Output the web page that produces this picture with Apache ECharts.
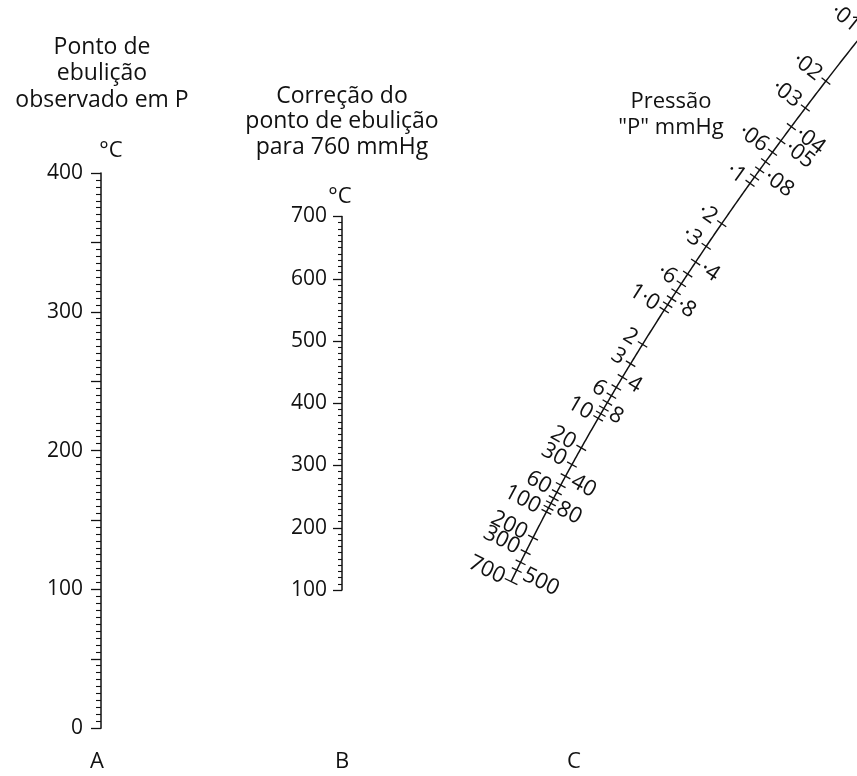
<!DOCTYPE html>
<html><head><meta charset="utf-8">
<script src="https://cdn.jsdelivr.net/npm/echarts@6/dist/echarts.min.js"></script>
<style>html,body{margin:0;padding:0;background:#fff}#c{width:857px;height:776px}</style>
</head><body><div id="c"></div>
<script>
// ---- Data ----
const observedRange = [0, 400];        // scale A, °C
const correctedRange = [100, 700];     // scale B, °C
const pressureTicks = [0.01,0.02,0.03,0.04,0.05,0.06,0.07,0.08,0.09,0.1,0.2,0.3,0.4,0.5,0.6,0.7,0.8,0.9,1,2,3,4,5,6,7,8,9,10,20,30,40,50,60,70,80,90,100,200,300,400,500,700];
const leftLabelValues = [0.01,0.02,0.03,0.06,0.1,0.2,0.3,0.6,1,2,3,6,10,20,30,60,100,200,300,700];
const leftLabelTexts = ['·01','·02','·03','·06','·1','·2','·3','·6','1·0','2','3','6','10','20','30','60','100','200','300','700'];
const rightLabelValues = [0.04,0.05,0.08,0.4,0.8,4,8,40,80,500];
const rightLabelTexts = ['·04','·05','·08','·4','·8','4','8','40','80','500'];
const titleA = ['Ponto de', 'ebulição', 'observado em P'];
const titleB = ['Correção do', 'ponto de ebulição', 'para 760 mmHg'];
const titleC = ['Pressão', '"P" mmHg'];

// ---- Nomograph scale for C, expressed in scale-A units (x: A=0, B=1; y: °C on A) ----
const C_M = 15.597, C_A0 = -768.6, C_A1 = 13604.5;
function pressureToT(p) { return C_A0 + C_A1 / (C_M - Math.log10(760 / p)); }
function tToX(t) { return 1.4307 + 0.0023245 * t + 2.27e-6 * t * t; }
function pressurePoint(p) { const t = pressureToT(p); return [tToX(t), t]; }

const FONT = '"Open Sans", "DejaVu Sans", sans-serif';
const INK = '#111111';

function frame(api, p) {
  const P = api.coord(pressurePoint(p));
  const A = api.coord(pressurePoint(p * 1.03));
  const B = api.coord(pressurePoint(p / 1.03));
  let tx = B[0] - A[0], ty = B[1] - A[1];
  const l = Math.hypot(tx, ty); tx /= l; ty /= l;
  return { P, nx: ty, ny: -tx };
}

const chart = echarts.init(document.getElementById('c'), null, { renderer: 'canvas' });

function textBlock(lines, cx, top, lh, size) {
  return lines.map((s, i) => ({
    type: 'text', x: cx, y: top + i * lh,
    style: { text: s, align: 'center', verticalAlign: 'middle', font: size + 'px ' + FONT, fill: INK }
  }));
}

const option = {
  animation: false,
  backgroundColor: '#fff',
  grid: [
    { left: 101, top: 173, width: 756, height: 555.2, outerBoundsMode: 'none', containLabel: false },
    { left: 342, top: 216.5, width: 10, height: 373.5, outerBoundsMode: 'none', containLabel: false }
  ],
  xAxis: [
    { gridIndex: 0, type: 'value', min: 0, max: 3.1369, show: false },
    { gridIndex: 1, type: 'value', min: 0, max: 1, show: false }
  ],
  yAxis: [
    {
      gridIndex: 0, type: 'value', min: observedRange[0], max: observedRange[1], interval: 50, position: 'left',
      axisLine: { show: true, onZero: false, lineStyle: { color: INK, width: 1.5 } },
      axisTick: { show: true, length: 10, lineStyle: { color: INK, width: 1.3 } },
      minorTick: { show: true, splitNumber: 10, length: 5, lineStyle: { color: INK, width: 1.1 } },
      axisLabel: { margin: 18, color: INK, fontSize: 21, fontFamily: FONT, formatter: v => (v % 100 === 0 ? String(v) : '') },
      splitLine: { show: false }, minorSplitLine: { show: false }
    },
    {
      gridIndex: 1, type: 'value', min: correctedRange[0], max: correctedRange[1], interval: 100, position: 'left',
      axisLine: { show: true, onZero: false, lineStyle: { color: INK, width: 1.5 } },
      axisTick: { show: true, length: 9, lineStyle: { color: INK, width: 1.3 } },
      minorTick: { show: true, splitNumber: 10, length: 4, lineStyle: { color: INK, width: 1.1 } },
      axisLabel: { margin: 15, color: INK, fontSize: 21, fontFamily: FONT },
      splitLine: { show: false }, minorSplitLine: { show: false }
    }
  ],
  series: [
    {
      type: 'custom', coordinateSystem: 'cartesian2d', xAxisIndex: 0, yAxisIndex: 0, silent: true,
      data: [[0, 0]],
      renderItem: (params, api) => {
        const pts = [];
        const l0 = Math.log10(700), l1 = Math.log10(0.004), n = 300;
        for (let i = 0; i <= n; i++) pts.push(api.coord(pressurePoint(Math.pow(10, l0 + (l1 - l0) * i / n))));
        return { type: 'polyline', shape: { points: pts }, style: { stroke: INK, lineWidth: 1.5, fill: null } };
      }
    },
    {
      type: 'custom', coordinateSystem: 'cartesian2d', xAxisIndex: 0, yAxisIndex: 0, silent: true,
      data: pressureTicks.map(p => [p]),
      renderItem: (params, api) => {
        const p = api.value(0);
        const f = frame(api, p);
        const len = p === 700 ? 7 : 5.5;
        return { type: 'line', shape: { x1: f.P[0] - f.nx * len, y1: f.P[1] - f.ny * len, x2: f.P[0] + f.nx * len, y2: f.P[1] + f.ny * len },
                 style: { stroke: INK, lineWidth: 1.3 } };
      }
    },
    {
      type: 'custom', coordinateSystem: 'cartesian2d', xAxisIndex: 0, yAxisIndex: 0, silent: true,
      data: leftLabelValues.map(p => [p]),
      renderItem: (params, api) => {
        const p = api.value(0);
        const f = frame(api, p);
        const gap = 8;
        const rot = -Math.atan2(-f.ny, -f.nx);
        return { type: 'text', x: f.P[0] + f.nx * gap, y: f.P[1] + f.ny * gap, rotation: rot,
                 style: { text: leftLabelTexts[params.dataIndex], align: 'right', verticalAlign: 'middle', font: '22px ' + FONT, fill: INK } };
      }
    },
    {
      type: 'custom', coordinateSystem: 'cartesian2d', xAxisIndex: 0, yAxisIndex: 0, silent: true,
      data: rightLabelValues.map(p => [p]),
      renderItem: (params, api) => {
        const p = api.value(0);
        const f = frame(api, p);
        const gap = 8;
        const rot = -Math.atan2(-f.ny, -f.nx);
        return { type: 'text', x: f.P[0] - f.nx * gap, y: f.P[1] - f.ny * gap, rotation: rot,
                 style: { text: rightLabelTexts[params.dataIndex], align: 'left', verticalAlign: 'middle', font: '22px ' + FONT, fill: INK } };
      }
    }
  ],
  graphic: [
    ...textBlock(titleA, 102, 47, 26.5, 23),
    ...textBlock(titleB, 342, 96, 25.5, 23),
    ...textBlock(titleC, 671, 102, 25.5, 22),
    ...textBlock(['°C'], 111, 151, 25, 22),
    ...textBlock(['°C'], 340, 197, 25, 22),
    ...textBlock(['A'], 97, 762, 25, 22),
    ...textBlock(['B'], 342, 762, 25, 22),
    ...textBlock(['C'], 574, 762, 25, 22)
  ]
};
chart.setOption(option);
</script>
</body></html>
